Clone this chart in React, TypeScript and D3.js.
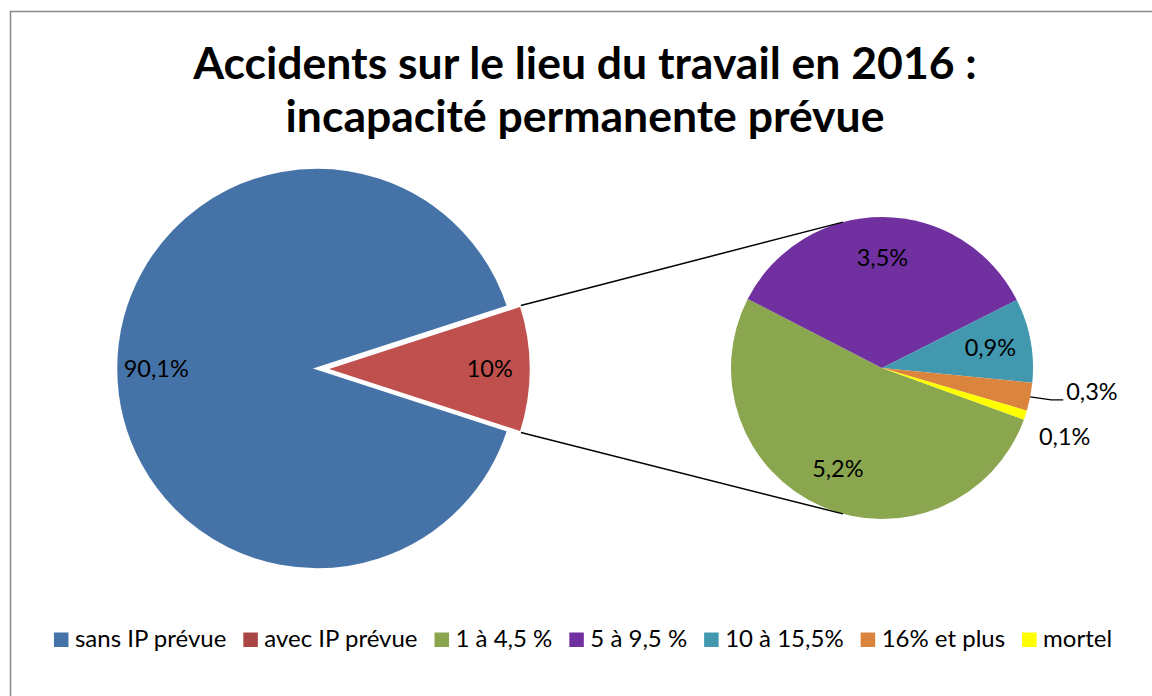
import { useEffect, useRef } from 'react';
import * as d3 from 'd3';

const mainLabels = ['sans IP prévue', 'avec IP prévue'];
const mainValues = [90.1, 10];
const mainColors = ['#4573A7', '#C0504D'];

const subLabels = ['1 à 4,5 %', '5 à 9,5 %', '10 à 15,5%', '16% et plus', 'mortel'];
const subValues = [5.2, 3.5, 0.9, 0.3, 0.1];
const subColors = ['#8AA64F', '#7030A0', '#4198AF', '#DB843D', '#FFFF00'];

const legendColors = ['#4572A7', '#AA4643', '#89A54E', '#71309F', '#4198AF', '#DB843D', '#FFFF00'];

const fmt = (v: number) => String(v).replace('.', ',') + '%';
const FONT = 'Lato, Calibri, sans-serif';
const LABEL_SIZE = 23.5;

const App = () => {
  const ref = useRef<SVGSVGElement>(null);

  useEffect(() => {
    document.body.style.margin = '0';
    const svg = d3.select(ref.current);
    svg.selectAll('*').remove();

    // chart frame
    svg.append('rect')
      .attr('x', 10.5).attr('y', 11.5)
      .attr('width', 1200).attr('height', 720)
      .attr('fill', '#fff')
      .attr('stroke', '#888').attr('stroke-width', 1.5);

    // title
    const title = svg.append('text')
      .attr('text-anchor', 'middle')
      .attr('font-family', FONT)
      .attr('font-weight', 'bold')
      .attr('font-size', 44.5)
      .attr('fill', '#000');
    title.append('tspan').attr('x', 585).attr('y', 79).text('Accidents sur le lieu du travail en 2016 :');
    title.append('tspan').attr('x', 585).attr('y', 132).text('incapacité permanente prévue');

    const deg = Math.PI / 180;
    const polar = (cx: number, cy: number, r: number, a: number) =>
      [cx + r * Math.sin(a), cy - r * Math.cos(a)];

    // main pie
    const redSpan = (mainValues[1] / d3.sum(mainValues)) * 2 * Math.PI;
    const mainPie = d3.pie<number>().sort(null)
      .startAngle(90 * deg + redSpan / 2)
      .endAngle(90 * deg + redSpan / 2 + 2 * Math.PI);
    const mainArcs = mainPie(mainValues);
    const mainCenters = [[317, 368.5], [325, 369]];
    const mainRadii = [201, 206];

    mainArcs.forEach((a, i) => {
      const [cx, cy] = mainCenters[i];
      const arc = d3.arc<any>().innerRadius(0).outerRadius(mainRadii[i]);
      const g = svg.append('g').attr('transform', `translate(${cx},${cy})`);
      g.append('path')
        .attr('d', arc(a) as string)
        .attr('fill', mainColors[i])
        .attr('stroke', '#fff').attr('stroke-width', 2.5);
      const lab = d3.arc<any>().innerRadius(0).outerRadius(mainRadii[i] * 1.6);
      const [lx, ly] = lab.centroid(a);
      g.append('text')
        .attr('x', lx).attr('y', ly).attr('dy', '0.35em')
        .attr('text-anchor', 'middle')
        .attr('font-family', FONT).attr('font-size', LABEL_SIZE)
        .text(fmt(mainValues[i]));
    });

    // secondary pie
    const subC = [882, 368];
    const subR = 151;
    const subPie = d3.pie<number>().sort(null)
      .startAngle(110 * deg).endAngle(110 * deg + 2 * Math.PI);
    const subArcs = subPie(subValues);
    const subArc = d3.arc<any>().innerRadius(0).outerRadius(subR);
    const sg = svg.append('g').attr('transform', `translate(${subC[0]},${subC[1]})`);
    sg.selectAll('path').data(subArcs).enter().append('path')
      .attr('d', d => subArc(d) as string)
      .attr('fill', (d, i) => subColors[i]);

    // connector lines
    const redA = mainArcs[1];
    const [rcx, rcy] = mainCenters[1];
    const topStart = polar(rcx, rcy, mainRadii[1], redA.startAngle);
    const botStart = polar(rcx, rcy, mainRadii[1], redA.endAngle);
    const topEnd = polar(subC[0], subC[1], subR, -15 * deg);
    const botEnd = polar(subC[0], subC[1], subR, 195 * deg);
    [[topStart, topEnd], [botStart, botEnd]].forEach(([s, e]) => {
      svg.append('line')
        .attr('x1', s[0]).attr('y1', s[1]).attr('x2', e[0]).attr('y2', e[1])
        .attr('stroke', '#000').attr('stroke-width', 1.5);
    });

    // labels inside secondary pie
    const inLab = d3.arc<any>().innerRadius(0).outerRadius(subR * 1.46);
    subArcs.forEach((a, i) => {
      if (subValues[i] < 0.5) return;
      const [lx, ly] = inLab.centroid(a);
      sg.append('text')
        .attr('x', lx).attr('y', ly).attr('dy', '0.35em')
        .attr('text-anchor', 'middle')
        .attr('font-family', FONT).attr('font-size', LABEL_SIZE)
        .text(fmt(subValues[i]));
    });

    // outside labels for tiny slices
    const a3 = subArcs[3];
    const m3 = (a3.startAngle + a3.endAngle) / 2;
    const p0 = polar(0, 0, subR, m3);
    const p1 = [p0[0] + 21, p0[1] + 3];
    const p2 = [p1[0] + 12, p1[1]];
    sg.append('path')
      .attr('d', d3.line()([p0 as [number, number], p1 as [number, number], p2 as [number, number]]))
      .attr('fill', 'none').attr('stroke', '#000').attr('stroke-width', 1.2);
    sg.append('text')
      .attr('x', p2[0] + 3).attr('y', p2[1])
      .attr('font-family', FONT).attr('font-size', LABEL_SIZE)
      .text(fmt(subValues[3]));

    const a4 = subArcs[4];
    const m4 = (a4.startAngle + a4.endAngle) / 2;
    const q = polar(0, 0, subR + 30, m4);
    sg.append('text')
      .attr('x', q[0] - 15).attr('y', q[1] + 20)
      .attr('font-family', FONT).attr('font-size', LABEL_SIZE)
      .text(fmt(subValues[4]));

    // legend
    const names = [...mainLabels, ...subLabels];
    const lg = svg.append('g');
    const items = names.map((n, i) => {
      const g = lg.append('g');
      g.append('rect').attr('width', 14.5).attr('height', 14.5).attr('y', -14.5)
        .attr('fill', legendColors[i]);
      const t = g.append('text').attr('x', 21).attr('y', 0)
        .attr('font-family', FONT).attr('font-size', 24)
        .text(n);
      const w = 21 + (t.node() as SVGTextElement).getComputedTextLength();
      return { g, w };
    });
    const gap = 17;
    const total = d3.sum(items, d => d.w) + gap * (items.length - 1);
    let x = 583 - total / 2;
    items.forEach(({ g, w }) => {
      g.attr('transform', `translate(${x},647)`);
      x += w + gap;
    });
  }, []);

  return <svg ref={ref} width={1152} height={696} style={{ display: 'block' }} />;
};

export default App;
